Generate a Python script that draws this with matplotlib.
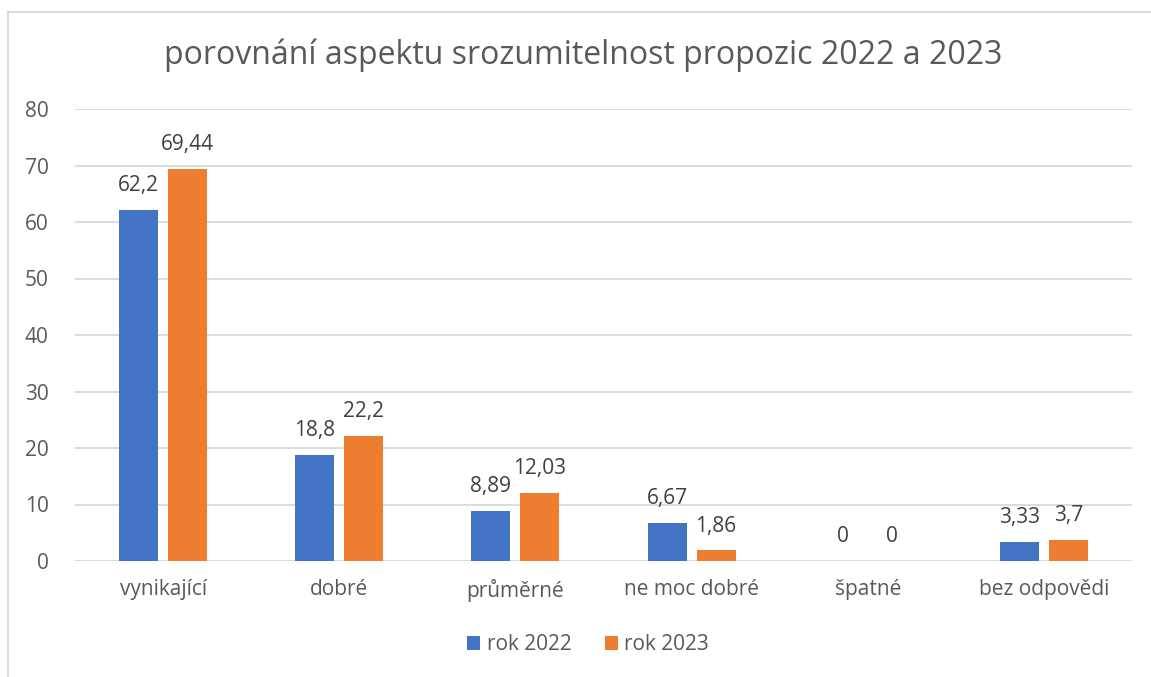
import matplotlib
matplotlib.use("Agg")
import matplotlib.pyplot as plt
import numpy as np
from matplotlib.lines import Line2D
from matplotlib.patches import Patch

categories = ["vynikající", "dobré", "průměrné", "ne moc dobré", "špatné", "bez odpovědi"]
rok_2022 = [62.2, 18.8, 8.89, 6.67, 0, 3.33]
rok_2023 = [69.44, 22.2, 12.03, 1.86, 0, 3.7]
labels_2022 = ["62,2", "18,8", "8,89", "6,67", "0", "3,33"]
labels_2023 = ["69,44", "22,2", "12,03", "1,86", "0", "3,7"]
series_names = ["rok 2022", "rok 2023"]
title = "porovnání aspektu srozumitelnost propozic 2022 a 2023"

BLUE = "#4472C4"
ORANGE = "#ED7D31"
GRID = "#D9D9D9"
TXT = "#595959"
LBL = "#404040"
FONT = "Open Sans"

W, H = 1151, 677
fig = plt.figure(figsize=(W / 100, H / 100), dpi=100)
fig.patch.set_facecolor("white")

ax = fig.add_axes([75 / W, (H - 561) / H, (1132 - 75) / W, (561 - 109) / H])
x = np.arange(len(categories))
bw = 0.222
off = 0.139
b1 = ax.bar(x - off, rok_2022, bw, color=BLUE, zorder=3)
b2 = ax.bar(x + off, rok_2023, bw, color=ORANGE, zorder=3)

for bars, labs in ((b1, labels_2022), (b2, labels_2023)):
    for rect, lab in zip(bars, labs):
        ax.annotate(lab, (rect.get_x() + rect.get_width() / 2, rect.get_height()),
                    xytext=(0, 10), textcoords="offset points", ha="center", va="bottom",
                    fontsize=15, color=LBL, family=FONT)

ax.set_xlim(-0.5, len(categories) - 0.5)
ax.set_ylim(0, 80)
ax.set_yticks(np.arange(0, 81, 10))
ax.yaxis.grid(True, color=GRID, linewidth=1.3, zorder=0)
ax.set_axisbelow(True)
for s in ax.spines.values():
    s.set_visible(False)
ax.tick_params(axis="both", length=0, colors=TXT, labelsize=15)
ax.tick_params(axis="y", pad=19)
ax.tick_params(axis="x", pad=13)
ax.set_xticks(x)
ax.set_xticklabels(categories, family=FONT)
for t in ax.get_yticklabels():
    t.set_family(FONT)

fig.text(583 / W, 1 - 55 / H, title, ha="center", va="center", fontsize=23, color=TXT, family=FONT)

handles = [Patch(facecolor=BLUE), Patch(facecolor=ORANGE)]
leg = fig.legend(handles, series_names, loc="center", bbox_to_anchor=(588 / W, 1 - 645 / H),
                 ncol=2, frameon=False, handlelength=0.65, handleheight=0.65, handletextpad=0.3,
                 columnspacing=1.6, prop={"family": FONT, "size": 15})
for t in leg.get_texts():
    t.set_color(TXT)

fig.add_artist(Line2D([8 / W, 8 / W], [0, 1 - 12 / H], transform=fig.transFigure, color=GRID, linewidth=1.3))
fig.add_artist(Line2D([8 / W, 1], [1 - 12 / H, 1 - 12 / H], transform=fig.transFigure, color=GRID, linewidth=1.3))

fig.savefig("out.png", dpi=100)
